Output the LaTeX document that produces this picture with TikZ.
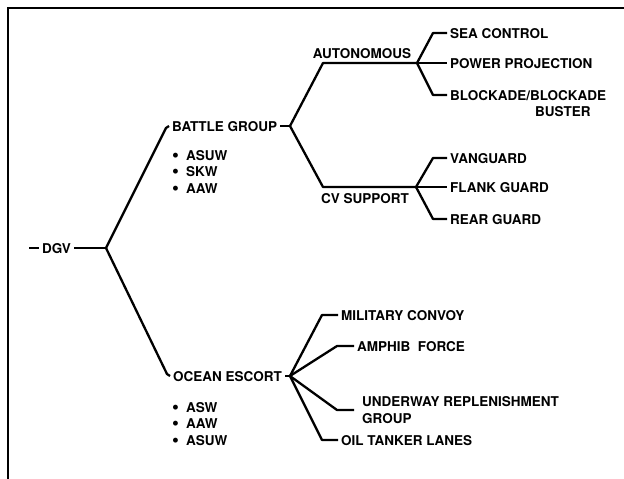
\documentclass[tikz,border=0pt]{standalone}
\usepackage{fontspec}
\setmainfont{TeX Gyre Heros}
\usetikzlibrary{positioning}
\newcommand{\blt}{\smash{\raisebox{-1.2pt}{\scalebox{1.45}{\textbullet}}}\hspace{7pt}}

\begin{document}
\begin{tikzpicture}[
  x=1pt, y=-1pt,
  lbl/.style={inner xsep=3pt, inner ysep=0pt, text height=10pt,
              text depth=0pt, font=\fontsize{13.5}{16.5}\selectfont\bfseries},
  lst/.style={align=left, inner sep=0pt,
              font=\fontsize{13.5}{16.5}\selectfont\bfseries},
  wire/.style={line width=2.3pt, line join=round}
]
\useasboundingbox (0,0) rectangle (624,479);
\clip (0,0) rectangle (624,479);
\draw[line width=2.4pt] (8,500) -- (8,8) -- (650,8);

\coordinate (dgvin) at (29,248);
\node[lbl, anchor=west] (dgv) at (39,248) {DGV};
\coordinate (dgvfork) at (106,248);
\draw[wire] (dgvin) -- (dgv.west);
\draw[wire] (dgv.east) -- (dgvfork);

\node[lbl, anchor=west] (battle) at (169,126) {BATTLE GROUP};
\coordinate (battlefork) at (290,126);
\draw[wire] (dgvfork) -- ([xshift=-3pt,yshift=-2pt]battle.west) -- (battle.west);
\draw[wire] (battle.east) -- (battlefork);
\node[lst, anchor=base west] (bglist) at (172,193)
  {\blt ASUW\\\blt SKW\\\blt AAW};

\coordinate (autbend) at (323,63);
\coordinate (autfork) at (417,63);
\draw[wire] (battlefork) -- (autbend) -- (autfork);
\node[lbl] (auton) at (362,53) {AUTONOMOUS};

\node[lbl, anchor=west] (sea) at (447,33) {SEA CONTROL};
\node[lbl, anchor=west] (power) at (447,63) {POWER PROJECTION};
\node[lbl, anchor=west] (block) at (447,95) {BLOCKADE/BLOCKADE};
\node[lbl, anchor=west] (buster) at (532,111) {BUSTER};
\draw[wire] (autfork) -- ([xshift=-14pt]sea.west) -- (sea.west);
\draw[wire] (autfork) -- (power.west);
\draw[wire] (autfork) -- ([xshift=-14pt]block.west) -- (block.west);

\coordinate (cvbend) at (323,187);
\coordinate (cvfork) at (416,187);
\draw[wire] (battlefork) -- (cvbend) -- (cvfork);
\node[lbl] (cvsup) at (365,198) {CV SUPPORT};

\node[lbl, anchor=west] (vanguard) at (447,158) {VANGUARD};
\node[lbl, anchor=west] (flank) at (447,187) {FLANK GUARD};
\node[lbl, anchor=west] (rear) at (447,219) {REAR GUARD};
\draw[wire] (cvfork) -- ([xshift=-14pt]vanguard.west) -- (vanguard.west);
\draw[wire] (cvfork) -- (flank.west);
\draw[wire] (cvfork) -- ([xshift=-14pt]rear.west) -- (rear.west);

\node[lbl, anchor=west] (ocean) at (170,376) {OCEAN ESCORT};
\coordinate (oceanfork) at (290,376);
\draw[wire] (dgvfork) -- ([xshift=-3pt,yshift=2pt]ocean.west) -- (ocean.west);
\draw[wire] (ocean.east) -- (oceanfork);
\node[lst, anchor=base west] (oelist) at (172,445)
  {\blt ASW\\\blt AAW\\\blt ASUW};

\node[lbl, anchor=west] (convoy) at (338,315) {MILITARY CONVOY};
\node[lbl, anchor=west] (amphib) at (354,346) {AMPHIB\ \ FORCE};
\node[lst, anchor=west, inner xsep=8pt] (unrep) at (354,410)
  {UNDERWAY REPLENISHMENT\\GROUP};
\node[lbl, anchor=west] (oil) at (338,440) {OIL TANKER LANES};
\draw[wire] (oceanfork) -- ([xshift=-16pt]convoy.west) -- (convoy.west);
\draw[wire] (oceanfork) -- ([xshift=-17pt]amphib.west) -- (amphib.west);
\draw[wire] (oceanfork) -- ([xshift=-17pt]unrep.west) -- (unrep.west);
\draw[wire] (oceanfork) -- ([xshift=-16pt]oil.west) -- (oil.west);
\end{tikzpicture}
\end{document}
